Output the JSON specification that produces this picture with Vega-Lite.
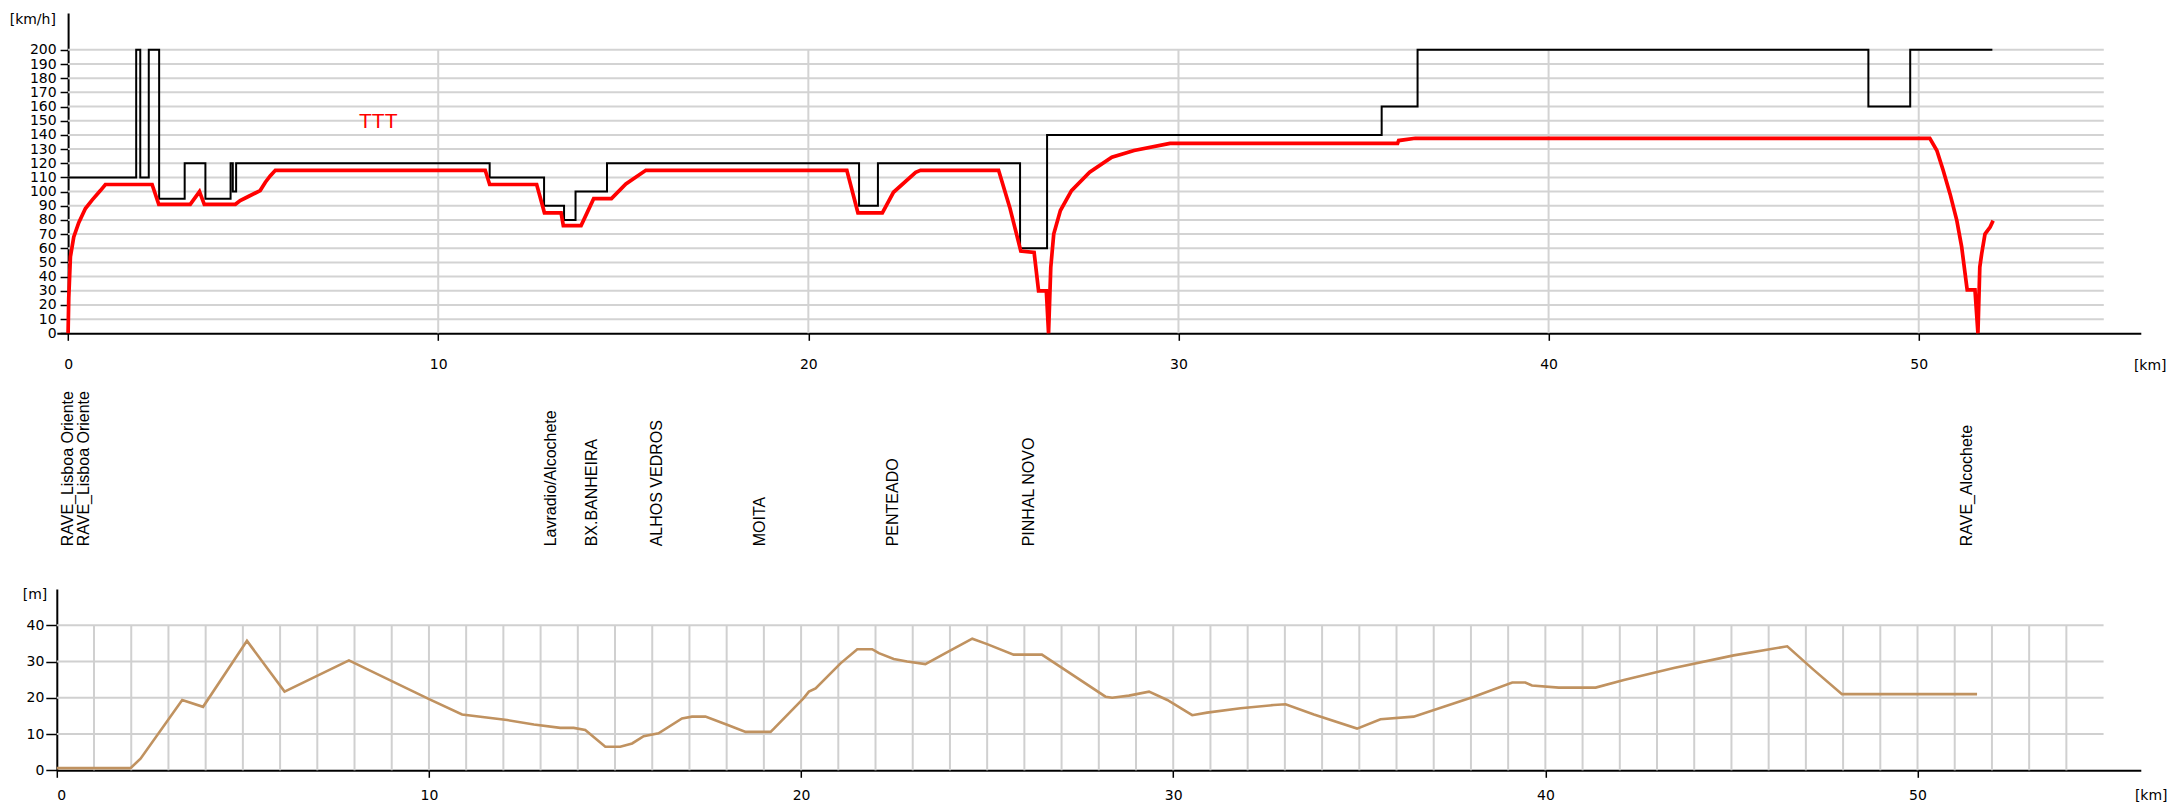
{
  "$schema": "https://vega.github.io/schema/vega-lite/v6.json",
  "background": "white",
  "padding": {"left": 8.8, "top": 12, "right": 5, "bottom": 0},
  "spacing": 42,
  "bounds": "flush",
  "config": {
    "view": {"stroke": null},
    "axis": {
      "labelFont": "DejaVu Sans", "labelFontSize": 14, "labelColor": "#000000", "labelOverlap": false,
      "domainColor": "#000000", "domainWidth": 2, "tickColor": "#000000", "tickWidth": 1.5,
      "titleFont": "DejaVu Sans", "titleFontSize": 14, "titleFontWeight": "normal", "titleColor": "#000000",
      "grid": false
    }
  },
  "datasets": {
    "hgrid": [{"v":10},{"v":20},{"v":30},{"v":40},{"v":50},{"v":60},{"v":70},{"v":80},{"v":90},{"v":100},{"v":110},{"v":120},{"v":130},{"v":140},{"v":150},{"v":160},{"v":170},{"v":180},{"v":190},{"v":200}],
    "vgrid": [{"km":10},{"km":20},{"km":30},{"km":40},{"km":50}],
    "limit": [
      {"km":0,"v":110},{"km":1.84,"v":200},{"km":1.95,"v":110},{"km":2.18,"v":200},{"km":2.46,"v":95},
      {"km":3.15,"v":120},{"km":3.71,"v":95},{"km":4.39,"v":120},{"km":4.45,"v":100},{"km":4.54,"v":120},
      {"km":11.39,"v":110},{"km":12.86,"v":90},{"km":13.40,"v":80},{"km":13.71,"v":100},{"km":14.56,"v":120},
      {"km":21.37,"v":90},{"km":21.88,"v":120},{"km":25.72,"v":60},{"km":26.45,"v":140},{"km":35.49,"v":160},
      {"km":36.46,"v":200},{"km":48.64,"v":160},{"km":49.77,"v":200},{"km":51.99,"v":200}
    ],
    "speed": [
      {"km":0,"v":0},{"km":0.018,"v":25},{"km":0.063,"v":54},{"km":0.153,"v":68},{"km":0.288,"v":78},
      {"km":0.468,"v":88},{"km":0.648,"v":94},{"km":0.873,"v":100.7},{"km":1.008,"v":105},{"km":2.27,"v":105},
      {"km":2.45,"v":91},{"km":3.30,"v":91},{"km":3.55,"v":100},{"km":3.68,"v":91},{"km":4.52,"v":91},
      {"km":4.65,"v":93.6},{"km":4.83,"v":96},{"km":5.06,"v":99},{"km":5.19,"v":100.7},{"km":5.33,"v":106.6},
      {"km":5.46,"v":111},{"km":5.60,"v":115},{"km":11.27,"v":115},{"km":11.39,"v":105},{"km":12.66,"v":105},
      {"km":12.87,"v":85},{"km":13.32,"v":85},{"km":13.38,"v":76},{"km":13.86,"v":76},{"km":14.2,"v":95},
      {"km":14.68,"v":95},{"km":15.07,"v":105.4},{"km":15.61,"v":115},{"km":21.04,"v":115},{"km":21.34,"v":85},
      {"km":22.0,"v":85},{"km":22.30,"v":99.5},{"km":22.9,"v":113.6},{"km":23.03,"v":115},{"km":25.14,"v":115},
      {"km":25.44,"v":89},{"km":25.74,"v":58},{"km":26.1,"v":57},{"km":26.22,"v":30},{"km":26.43,"v":30},
      {"km":26.49,"v":0},{"km":26.55,"v":46.6},{"km":26.63,"v":70},{"km":26.81,"v":86.6},{"km":27.11,"v":100.7},
      {"km":27.6,"v":113.6},{"km":28.2,"v":124.2},{"km":28.8,"v":129},{"km":29.77,"v":134},{"km":35.92,"v":134},
      {"km":35.95,"v":136},{"km":36.4,"v":137.6},{"km":50.3,"v":137.6},{"km":50.49,"v":129},{"km":50.66,"v":115},
      {"km":50.85,"v":98},{"km":51.03,"v":79.5},{"km":51.16,"v":61},{"km":51.3,"v":32.5},{"km":51.31,"v":30.6},
      {"km":51.52,"v":30.6},{"km":51.6,"v":0},{"km":51.65,"v":46.6},{"km":51.7,"v":56},{"km":51.79,"v":70},
      {"km":51.93,"v":75},{"km":52.01,"v":79.5}
    ],
    "notes": [{"km":8.38,"v":149.4,"label":"TTT"}],
    "stations": [
      {"km":0.0,"name":"RAVE_Lisboa Oriente"},{"km":0.42,"name":"RAVE_Lisboa Oriente"},
      {"km":13.04,"name":"Lavradio/Alcochete"},{"km":14.15,"name":"BX.BANHEIRA"},
      {"km":15.9,"name":"ALHOS VEDROS"},{"km":18.69,"name":"MOITA"},
      {"km":22.28,"name":"PENTEADO"},{"km":25.96,"name":"PINHAL NOVO"},
      {"km":51.3,"name":"RAVE_Alcochete"}
    ],
    "bhgrid": [{"m":10},{"m":20},{"m":30},{"m":40}],
    "bvgrid": [{"km":1},{"km":2},{"km":3},{"km":4},{"km":5},{"km":6},{"km":7},{"km":8},{"km":9},{"km":10},{"km":11},{"km":12},{"km":13},{"km":14},{"km":15},{"km":16},{"km":17},{"km":18},{"km":19},{"km":20},{"km":21},{"km":22},{"km":23},{"km":24},{"km":25},{"km":26},{"km":27},{"km":28},{"km":29},{"km":30},{"km":31},{"km":32},{"km":33},{"km":34},{"km":35},{"km":36},{"km":37},{"km":38},{"km":39},{"km":40},{"km":41},{"km":42},{"km":43},{"km":44},{"km":45},{"km":46},{"km":47},{"km":48},{"km":49},{"km":50},{"km":51},{"km":52},{"km":53},{"km":54}],
    "elev": [
      {"km":0,"m":0.6},{"km":1.98,"m":0.6},{"km":2.25,"m":3.2},{"km":3.37,"m":19.4},{"km":3.93,"m":17.5},
      {"km":5.11,"m":35.7},{"km":6.12,"m":21.7},{"km":7.85,"m":30.3},{"km":9.99,"m":19.7},{"km":10.89,"m":15.4},
      {"km":12.10,"m":13.85},{"km":12.82,"m":12.65},{"km":13.53,"m":11.7},{"km":13.89,"m":11.7},{"km":14.2,"m":11.1},
      {"km":14.74,"m":6.5},{"km":15.14,"m":6.5},{"km":15.46,"m":7.4},{"km":15.77,"m":9.4},{"km":16.17,"m":10.2},
      {"km":16.8,"m":14.3},{"km":17.07,"m":14.8},{"km":17.43,"m":14.8},{"km":18.03,"m":12.5},{"km":18.51,"m":10.6},
      {"km":19.18,"m":10.6},{"km":19.27,"m":11.5},{"km":20.07,"m":19.9},{"km":20.21,"m":21.7},{"km":20.39,"m":22.6},
      {"km":21.06,"m":29.5},{"km":21.51,"m":33.4},{"km":21.91,"m":33.4},{"km":22.09,"m":32.3},{"km":22.49,"m":30.7},
      {"km":22.85,"m":30.0},{"km":23.34,"m":29.3},{"km":23.88,"m":32.3},{"km":24.6,"m":36.3},{"km":25.0,"m":34.8},
      {"km":25.71,"m":31.9},{"km":26.47,"m":31.9},{"km":26.97,"m":28.5},{"km":28.18,"m":20.3},{"km":28.36,"m":20.0},
      {"km":28.81,"m":20.6},{"km":29.35,"m":21.7},{"km":29.84,"m":19.4},{"km":30.51,"m":15.2},{"km":30.91,"m":15.9},
      {"km":31.81,"m":17.1},{"km":32.7,"m":18.0},{"km":33.02,"m":18.2},{"km":33.78,"m":15.4},{"km":34.94,"m":11.5},
      {"km":35.57,"m":14.1},{"km":36.46,"m":14.8},{"km":38.08,"m":20.3},{"km":39.11,"m":24.2},{"km":39.46,"m":24.2},
      {"km":39.64,"m":23.4},{"km":40.36,"m":22.8},{"km":41.35,"m":22.8},{"km":42.11,"m":24.9},{"km":43.45,"m":28.2},
      {"km":45.06,"m":31.7},{"km":46.5,"m":34.2},{"km":47.21,"m":27.7},{"km":47.97,"m":21.0},{"km":51.6,"m":21.0}
    ]
  },
  "vconcat": [
    {
      "width": 2084,
      "height": 320.3,
      "layer": [
        {
          "data": {"name": "hgrid"},
          "mark": {"type": "rule", "color": "#d3d3d3", "strokeWidth": 2},
          "encoding": {
            "y": {"field": "v", "type": "quantitative"},
            "x": {"datum": 0, "type": "quantitative"},
            "x2": {"datum": 55}
          }
        },
        {
          "data": {"name": "vgrid"},
          "mark": {"type": "rule", "color": "#d3d3d3", "strokeWidth": 2},
          "encoding": {
            "x": {"field": "km", "type": "quantitative"},
            "y": {"datum": 0, "type": "quantitative"},
            "y2": {"datum": 200}
          }
        },
        {
          "data": {"name": "limit"},
          "mark": {"type": "line", "color": "#000000", "strokeWidth": 2, "interpolate": "step-after"},
          "encoding": {
            "x": {"field": "km", "type": "quantitative",
                  "scale": {"domain": [-0.305, 56], "nice": false, "zero": false},
                  "axis": {"values": [0,10,20,30,40,50], "tickCount": 60, "tickSize": 7, "labelPadding": 17,
                           "title": "[km]", "titleAngle": 0, "titleAlign": "left", "titleBaseline": "middle",
                           "titleX": 2076.6, "titleY": 32}},
            "y": {"field": "v", "type": "quantitative",
                  "scale": {"domain": [0, 226], "nice": false, "zero": false},
                  "axis": {"values": [0,10,20,30,40,50,60,70,80,90,100,110,120,130,140,150,160,170,180,190,200],
                           "tickCount": 40, "labelOverlap": false, "labelFontSize": 14,
                           "offset": -11.3, "tickSize": 8, "labelPadding": 4,
                           "title": "[km/h]", "titleAngle": 0, "titleAlign": "right", "titleBaseline": "middle",
                           "titleX": -12.7, "titleY": 6.8}}
          }
        },
        {
          "data": {"name": "speed"},
          "mark": {"type": "line", "color": "#ff0000", "strokeWidth": 3.7, "strokeJoin": "miter"},
          "encoding": {
            "x": {"field": "km", "type": "quantitative"},
            "y": {"field": "v", "type": "quantitative"}
          }
        },
        {
          "data": {"name": "notes"},
          "mark": {"type": "text", "color": "#ff0000", "font": "Liberation Sans", "fontSize": 21, "align": "center", "baseline": "middle"},
          "encoding": {
            "x": {"field": "km", "type": "quantitative"},
            "y": {"field": "v", "type": "quantitative"},
            "text": {"field": "label"}
          }
        },
        {
          "mark": {"type": "point", "shape": "triangle-right", "filled": true, "fill": "white", "stroke": "#000000", "strokeWidth": 1.5, "size": 60, "opacity": 1},
          "encoding": {"x": {"datum": 56, "type": "quantitative"}, "y": {"datum": 0, "type": "quantitative"}}
        },
        {
          "mark": {"type": "point", "shape": "triangle-up", "filled": true, "fill": "white", "stroke": "#000000", "strokeWidth": 1.5, "size": 60, "opacity": 1},
          "encoding": {"x": {"datum": 0, "type": "quantitative"}, "y": {"datum": 226, "type": "quantitative"}}
        }
      ]
    },
    {
      "width": 2084,
      "height": 170.3,
      "data": {"name": "stations"},
      "mark": {"type": "text", "angle": 270, "align": "left", "baseline": "middle", "font": "Liberation Sans", "fontSize": 16, "color": "#000000"},
      "encoding": {
        "x": {"field": "km", "type": "quantitative", "scale": {"domain": [-0.305, 56], "nice": false, "zero": false}, "axis": null},
        "y": {"datum": 0, "type": "quantitative", "scale": {"domain": [0, 1]}, "axis": null},
        "text": {"field": "name"}
      }
    },
    {
      "width": 2084,
      "height": 181.3,
      "layer": [
        {
          "data": {"name": "bhgrid"},
          "mark": {"type": "rule", "color": "#d0d0d0", "strokeWidth": 2},
          "encoding": {
            "y": {"field": "m", "type": "quantitative"},
            "x": {"datum": 0, "type": "quantitative"},
            "x2": {"datum": 55}
          }
        },
        {
          "data": {"name": "bvgrid"},
          "mark": {"type": "rule", "color": "#d0d0d0", "strokeWidth": 2},
          "encoding": {
            "x": {"field": "km", "type": "quantitative"},
            "y": {"datum": 0, "type": "quantitative"},
            "y2": {"datum": 40}
          }
        },
        {
          "data": {"name": "elev"},
          "mark": {"type": "line", "color": "#c09260", "strokeWidth": 2.6},
          "encoding": {
            "x": {"field": "km", "type": "quantitative",
                  "scale": {"domain": [0, 56], "nice": false, "zero": false},
                  "axis": {"values": [0,10,20,30,40,50], "tickCount": 60, "tickSize": 7, "labelPadding": 11,
                           "title": "[km]", "titleAngle": 0, "titleAlign": "left", "titleBaseline": "middle",
                           "titleX": 2077.6, "titleY": 25.7}},
            "y": {"field": "m", "type": "quantitative",
                  "scale": {"domain": [0, 50], "nice": false, "zero": false},
                  "axis": {"values": [0,10,20,30,40], "tickCount": 20, "tickSize": 11, "labelPadding": 2, "labelOverlap": false,
                           "title": "[m]", "titleAngle": 0, "titleAlign": "right", "titleBaseline": "middle",
                           "titleX": -10, "titleY": 6}}
          }
        },
        {
          "mark": {"type": "point", "shape": "triangle-right", "filled": true, "fill": "white", "stroke": "#000000", "strokeWidth": 1.5, "size": 60, "opacity": 1},
          "encoding": {"x": {"datum": 56, "type": "quantitative"}, "y": {"datum": 0, "type": "quantitative"}}
        },
        {
          "mark": {"type": "point", "shape": "triangle-up", "filled": true, "fill": "white", "stroke": "#000000", "strokeWidth": 1.5, "size": 60, "opacity": 1},
          "encoding": {"x": {"datum": 0, "type": "quantitative"}, "y": {"datum": 50, "type": "quantitative"}}
        }
      ]
    }
  ]
}
